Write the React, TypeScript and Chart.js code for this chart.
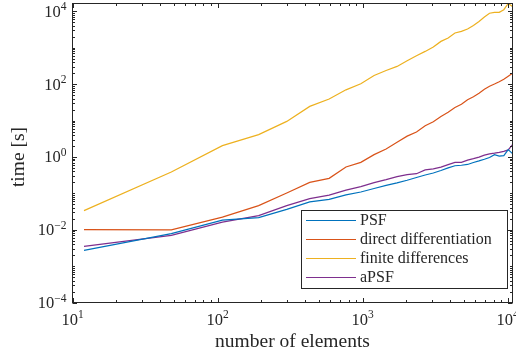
import React, { useEffect, useRef } from "react";
import { Chart, registerables } from "chart.js";

Chart.register(...registerables);

// Mesh sizes (number of elements) at which each method was timed
const elements = [
  12, 48, 108, 192, 300, 432, 588, 768, 972, 1200, 1452, 1728, 2028, 2352, 2700,
  3072, 3468, 3888, 4332, 4800, 5292, 5808, 6348, 6912, 7500, 8112, 8748, 9408, 10092, 10800,
];

// Run times in seconds
const psfTimes = [
  0.00272, 0.0078, 0.0184, 0.0215, 0.0361, 0.0581, 0.0681, 0.0903, 0.109, 0.136,
  0.165, 0.193, 0.229, 0.273, 0.32, 0.363, 0.425, 0.499, 0.573, 0.591,
  0.622, 0.706, 0.777, 0.865, 0.968, 1.156, 1.05, 1.086, 1.59, 1.23,
];
const directTimes = [
  0.0101, 0.0099, 0.0222, 0.0459, 0.1026, 0.2, 0.258, 0.531, 0.711, 1.16,
  1.66, 2.52, 3.73, 4.86, 7.24, 9.33, 13.0, 17.0, 22.9, 28.2,
  37.5, 45.4, 56.6, 72.9, 88.2, 101, 117, 137, 166, 200,
];
const finiteTimes = [
  0.0335, 0.387, 2.05, 4.1, 9.5, 24.5, 39, 70, 103, 173,
  238, 308, 442, 607, 796, 1052, 1500, 1858, 2552, 2824,
  3284, 4122, 5309, 7015, 8930, 9400, 9400, 11130, 16500, 13700,
];
const apsfTimes = [
  0.0035, 0.0070, 0.0162, 0.0244, 0.0459, 0.0714, 0.0893, 0.1225, 0.153, 0.197,
  0.238, 0.288, 0.327, 0.347, 0.44, 0.468, 0.525, 0.614, 0.706, 0.711,
  0.818, 0.897, 0.99, 1.12, 1.21, 1.27, 1.34, 1.43, 1.56, 2.18,
];

const seriesLabels = ["PSF", "direct differentiation", "finite differences", "aPSF"];
const seriesColors = ["#0072BD", "#D95319", "#EDB120", "#7E2F8E"];

const xRange = [10, 10800];
const yRange = [1e-4, 16500];
const xLabelTicks = [10, 100, 1000, 10000];
const yLabelTicks = [1e-4, 1e-2, 1, 1e2, 1e4];

const xTitle = "number of elements";
const yTitle = "time [s]";

const INK = "#262626";
const SERIF = "'Liberation Serif', 'Times New Roman', serif";

function decadeTicks(min: number, max: number): number[] {
  const out: number[] = [];
  const lo = Math.floor(Math.log10(min));
  const hi = Math.ceil(Math.log10(max));
  for (let e = lo; e <= hi; e++) {
    for (let m = 1; m <= 9; m++) {
      const v = m * Math.pow(10, e);
      if (v >= min * 0.9999 && v <= max * 1.0001) out.push(v);
    }
  }
  return out;
}

function expText(v: number): string {
  const e = Math.round(Math.log10(v));
  return e < 0 ? "\u2212" + Math.abs(e) : String(e);
}

// Draws "10" with a raised exponent; align: "center" or "right"
function drawPower(ctx: CanvasRenderingContext2D, v: number, x: number, baseY: number, align: string) {
  const base = "10";
  const sup = expText(v);
  ctx.font = `16.5px ${SERIF}`;
  const wb = ctx.measureText(base).width;
  ctx.font = `11.5px ${SERIF}`;
  const ws = ctx.measureText(sup).width;
  const total = wb + ws;
  const left = align === "center" ? x - total / 2 : x - total;
  ctx.textAlign = "left";
  ctx.textBaseline = "alphabetic";
  ctx.font = `16.5px ${SERIF}`;
  ctx.fillText(base, left, baseY);
  ctx.font = `11.5px ${SERIF}`;
  ctx.fillText(sup, left + wb, baseY - 6.5);
}

const framePlugin = {
  id: "matlabFrame",
  afterDatasetsDraw(chart: any) {
    const { ctx, chartArea: a, scales } = chart;
    const sx = scales.x;
    const sy = scales.y;
    ctx.save();
    ctx.strokeStyle = INK;
    ctx.fillStyle = INK;
    ctx.lineWidth = 1;

    const majorLen = 4.5;
    const minorLen = 2.5;

    // x ticks, inward on bottom and top edges
    ctx.beginPath();
    for (const v of decadeTicks(xRange[0], xRange[1])) {
      const len = xLabelTicks.includes(v) ? majorLen : minorLen;
      const px = Math.round(sx.getPixelForValue(v)) + 0.5;
      ctx.moveTo(px, a.bottom);
      ctx.lineTo(px, a.bottom - len);
      ctx.moveTo(px, a.top);
      ctx.lineTo(px, a.top + len);
    }
    // y ticks, inward on left and right edges
    for (const v of decadeTicks(yRange[0], yRange[1])) {
      const len = yLabelTicks.some((t) => Math.abs(t - v) / t < 1e-6) ? majorLen : minorLen;
      const py = Math.round(sy.getPixelForValue(v)) + 0.5;
      ctx.moveTo(a.left, py);
      ctx.lineTo(a.left + len, py);
      ctx.moveTo(a.right, py);
      ctx.lineTo(a.right - len, py);
    }
    ctx.stroke();

    // axes box
    ctx.strokeRect(a.left, a.top, a.right - a.left, a.bottom - a.top);

    // tick labels
    for (const v of xLabelTicks) {
      drawPower(ctx, v, sx.getPixelForValue(v), a.bottom + 22, "center");
    }
    for (const v of yLabelTicks) {
      drawPower(ctx, v, a.left - 6, sy.getPixelForValue(v) + 5.5, "right");
    }

    // axis titles
    ctx.font = `19.5px ${SERIF}`;
    ctx.textAlign = "center";
    ctx.textBaseline = "alphabetic";
    ctx.fillText(xTitle, (a.left + a.right) / 2, a.bottom + 44);
    ctx.save();
    ctx.translate(24, (a.top + a.bottom) / 2 + 4);
    ctx.rotate(-Math.PI / 2);
    ctx.fillText(yTitle, 0, 0);
    ctx.restore();

    // legend box in the lower right corner
    const bx = 301.5;
    const by = 210.5;
    const bw = 206;
    const bh = 78;
    ctx.fillStyle = "#ffffff";
    ctx.fillRect(bx, by, bw, bh);
    ctx.strokeStyle = INK;
    ctx.strokeRect(bx, by, bw, bh);
    ctx.font = `16px ${SERIF}`;
    ctx.textAlign = "left";
    ctx.textBaseline = "middle";
    chart.data.datasets.forEach((ds: any, i: number) => {
      const ry = by + 10 + i * 19;
      ctx.strokeStyle = ds.borderColor;
      ctx.lineWidth = 1.2;
      ctx.beginPath();
      ctx.moveTo(bx + 4.5, ry);
      ctx.lineTo(bx + 54.5, ry);
      ctx.stroke();
      ctx.fillStyle = INK;
      ctx.fillText(ds.label, bx + 58.5, ry + 0.5);
    });
    ctx.restore();
  },
};

export default function App() {
  const canvasRef = useRef<HTMLCanvasElement | null>(null);

  useEffect(() => {
    const canvas = canvasRef.current;
    if (!canvas) return;
    const series = [psfTimes, directTimes, finiteTimes, apsfTimes];
    const chart = new Chart(canvas, {
      type: "line",
      data: {
        datasets: series.map((vals, i) => ({
          label: seriesLabels[i],
          data: elements.map((n, j) => ({ x: n, y: vals[j] })),
          borderColor: seriesColors[i],
          backgroundColor: seriesColors[i],
          borderWidth: 1.2,
          pointRadius: 0,
          tension: 0,
          fill: false,
        })),
      },
      options: {
        responsive: false,
        animation: false,
        devicePixelRatio: 1,
        layout: { padding: { left: 72.5, top: 3.5, right: 3.5, bottom: 51.5 } },
        plugins: { legend: { display: false }, tooltip: { enabled: false } },
        scales: {
          x: { type: "logarithmic", min: xRange[0], max: xRange[1], display: false },
          y: { type: "logarithmic", min: yRange[0], max: yRange[1], display: false },
        },
      },
      plugins: [framePlugin],
    });
    return () => chart.destroy();
  }, []);

  return (
    <canvas
      ref={canvasRef}
      width={516}
      height={354}
      style={{ position: "fixed", left: 0, top: 0, width: 516, height: 354, background: "#ffffff" }}
    />
  );
}
